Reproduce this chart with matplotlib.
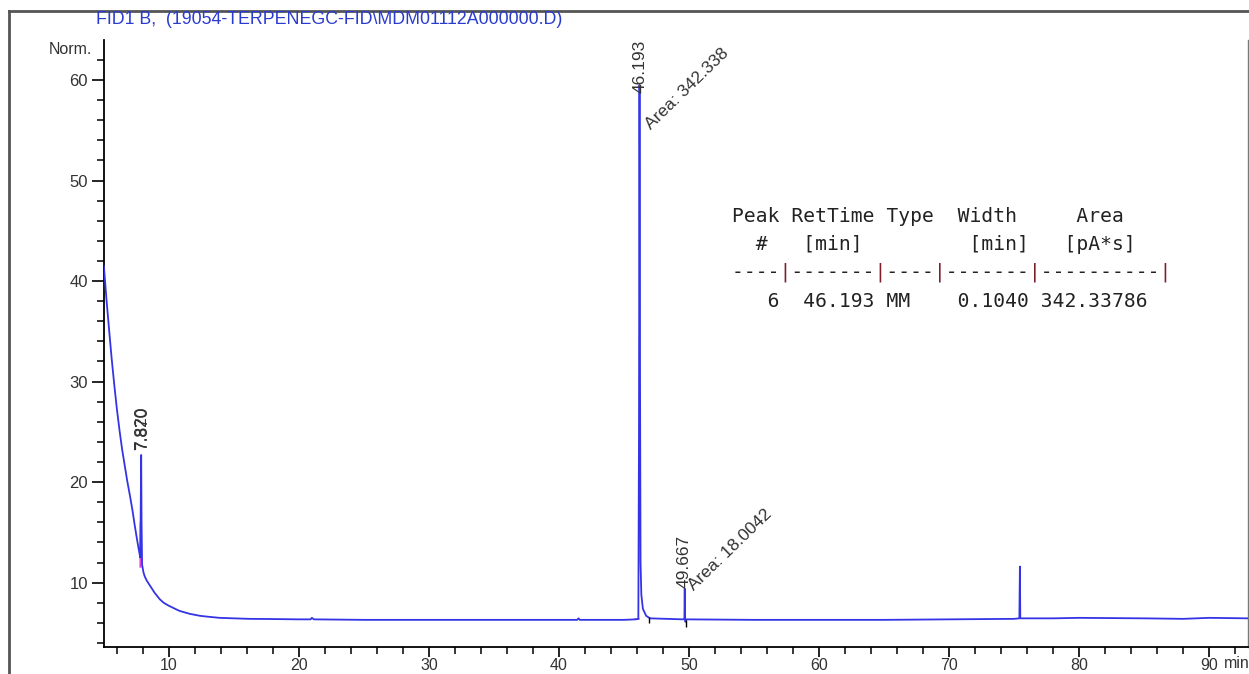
import matplotlib
matplotlib.use("Agg")
import matplotlib.pyplot as plt
from matplotlib.lines import Line2D
from matplotlib.ticker import MultipleLocator

# ---------------- data ----------------
time_min = [5.0, 5.2, 5.4, 5.6, 5.8, 6.0, 6.2, 6.4, 6.6, 6.8, 7.0, 7.2, 7.35, 7.55, 7.70, 7.80,
            7.84, 7.87, 7.90, 7.94, 8.05, 8.15, 8.3, 8.5, 8.9, 9.3, 9.6, 10.0, 10.4, 10.8,
            11.2, 11.6, 12.0, 12.4, 13.1, 13.9, 15.0, 16.2, 18.0, 20.0, 20.9, 21.0,
            21.15, 25.0, 30.0, 35.0, 40.0, 41.4, 41.5, 41.6, 41.75, 45.0, 45.9, 46.10,
            46.15, 46.19, 46.23, 46.27, 46.33, 46.45, 46.7, 47.0, 49.55, 49.64, 49.667,
            49.69, 49.72, 49.78, 55.0, 60.0, 65.0, 70.0, 75.0, 75.40, 75.44, 75.47, 78.0,
            80.0, 85.0, 88.0, 90.0, 93.0]
signal_pa = [41.5, 38.2, 35.2, 32.3, 29.7, 27.3, 25.2, 23.3, 21.7, 20.1, 18.7, 17.2, 15.9, 14.3,
             13.2, 12.5, 18.0, 22.7, 16.0, 11.8, 11.0, 10.6, 10.2, 9.8, 9.0, 8.35, 8.0, 7.7,
             7.45, 7.2, 7.05, 6.9, 6.8, 6.7, 6.6, 6.5, 6.45, 6.4, 6.38, 6.35, 6.35, 6.5,
             6.35, 6.3, 6.3, 6.3, 6.3, 6.3, 6.45, 6.3, 6.3, 6.3, 6.35, 6.4,
             25.0, 59.5, 30.0, 12.0, 8.8, 7.4, 6.7, 6.45, 6.35, 6.4, 9.4,
             6.4, 6.1, 6.35, 6.3, 6.3, 6.3, 6.35, 6.4, 6.45, 11.6, 6.45, 6.45,
             6.5, 6.45, 6.4, 6.5, 6.45]

# integration baselines (magenta) and peak start/end markers
base1_t = [7.82, 7.84]
base1_v = [11.6, 15.9]
base2_t = [45.85, 46.15]
base2_v = [6.35, 6.35]
marker_t = [46.9, 49.8]
marker_lo = [6.0, 5.6]
marker_hi = [6.6, 6.3]

# peak annotations
rt_labels = ["7.820", "7.870", "46.193", "49.667"]
rt_x = [7.92, 7.95, 46.20, 49.62]
rt_y = [23.2, 23.2, 58.7, 9.5]
area_labels = ["Area: 342.338", "Area: 18.0042"]
area_x = [47.1, 50.4]
area_y = [55.0, 9.2]

x_major = [10, 20, 30, 40, 50, 60, 70, 80, 90]
y_major = [10, 20, 30, 40, 50, 60]

table_lines = [
    "Peak RetTime Type  Width     Area",
    "  #   [min]         [min]   [pA*s]",
    "----|-------|----|-------|----------|",
    "   6  46.193 MM    0.1040 342.33786",
]

# ---------------- figure ----------------
W, H = 1249, 674
fig = plt.figure(figsize=(W / 100, H / 100), dpi=100)
plt.rcParams['font.family'] = ['Liberation Sans', 'DejaVu Sans']

left, right, top, bottom = 104.5, 1248, 40, 647.3
ax = fig.add_axes([left / W, 1 - bottom / H, (right - left) / W, (bottom - top) / H])

sig_col = '#3434e6'
ax.plot(time_min, signal_pa, color=sig_col, lw=1.3, solid_joinstyle='round', zorder=3)
ax.plot(base1_t, base1_v, color='#e040e0', lw=1.6, zorder=2)
ax.plot(base2_t, base2_v, color='#e070e0', lw=1.2, zorder=2)
ax.vlines(marker_t, marker_lo, marker_hi, color='black', lw=1.0, zorder=4)

ax.set_xlim(5.05, 92.98)
ax.set_ylim(3.57, 63.98)

ax.set_xticks(x_major)
ax.set_yticks(y_major)
ax.xaxis.set_minor_locator(MultipleLocator(2))
ax.yaxis.set_minor_locator(MultipleLocator(2))
ax.tick_params(axis='y', which='major', direction='out', length=9, width=1.2,
               colors='black', labelcolor='#333333', labelsize=12, pad=3)
ax.tick_params(axis='x', which='major', direction='out', length=7, width=1.2,
               colors='black', labelcolor='#333333', labelsize=11.5, pad=0.5)
ax.tick_params(axis='both', which='minor', direction='out', length=5, width=1.1, colors='black')
ax.set_xticklabels([str(v) for v in x_major])

ax.spines['top'].set_visible(False)
ax.spines['right'].set_color('#777777')
ax.spines['right'].set_linewidth(1.0)
ax.spines['left'].set_linewidth(1.3)
ax.spines['bottom'].set_linewidth(1.3)

# peak labels
lab_col = '#333333'
for txt, x, y in zip(rt_labels, rt_x, rt_y):
    ax.text(x, y, txt, rotation=90, ha='center', va='bottom', fontsize=12.5,
            color=lab_col, zorder=5)
for txt, x, y in zip(area_labels, area_x, area_y):
    ax.text(x, y, txt, rotation=44, rotation_mode='anchor', ha='left', va='baseline',
            fontsize=12.5, color=lab_col, zorder=5)

# axis text
fig.text(92 / W, 1 - 49 / H, "Norm.", ha='right', va='center', fontsize=11.5, color='#333333')
fig.text(1224 / W, 1 - 664 / H, "min", ha='left', va='center', fontsize=11.5, color='#333333')

# title
fig.text(96 / W, 1 - 19 / H, "FID1 B,  (19054-TERPENEGC-FID\\MDM01112A000000.D)",
         ha='left', va='center', fontsize=12.8, color='#2a3ccf')

# outer frame lines
fig.add_artist(Line2D([9 / W, 9 / W], [0, 1 - 11 / H], color='#555555', lw=2.0))
fig.add_artist(Line2D([9 / W, 1], [1 - 11 / H, 1 - 11 / H], color='#555555', lw=2.0))

# report table
baselines = [222, 250, 278, 307]
tx = 732 / W
mono = 'DejaVu Sans Mono'
fs_t = 14.15
for i, (line, yb) in enumerate(zip(table_lines, baselines)):
    if i == 2:
        dashes = ''.join('-' if c == '-' else ' ' for c in line)
        pipes = ''.join('|' if c == '|' else ' ' for c in line)
        fig.text(tx, 1 - yb / H, dashes, family=mono, fontsize=fs_t, color='#222222', va='baseline')
        fig.text(tx, 1 - yb / H, pipes, family=mono, fontsize=fs_t, color='#7a1f2b', va='baseline')
    else:
        fig.text(tx, 1 - yb / H, line, family=mono, fontsize=fs_t, color='#222222', va='baseline')

fig.savefig("out.png", dpi=100)
